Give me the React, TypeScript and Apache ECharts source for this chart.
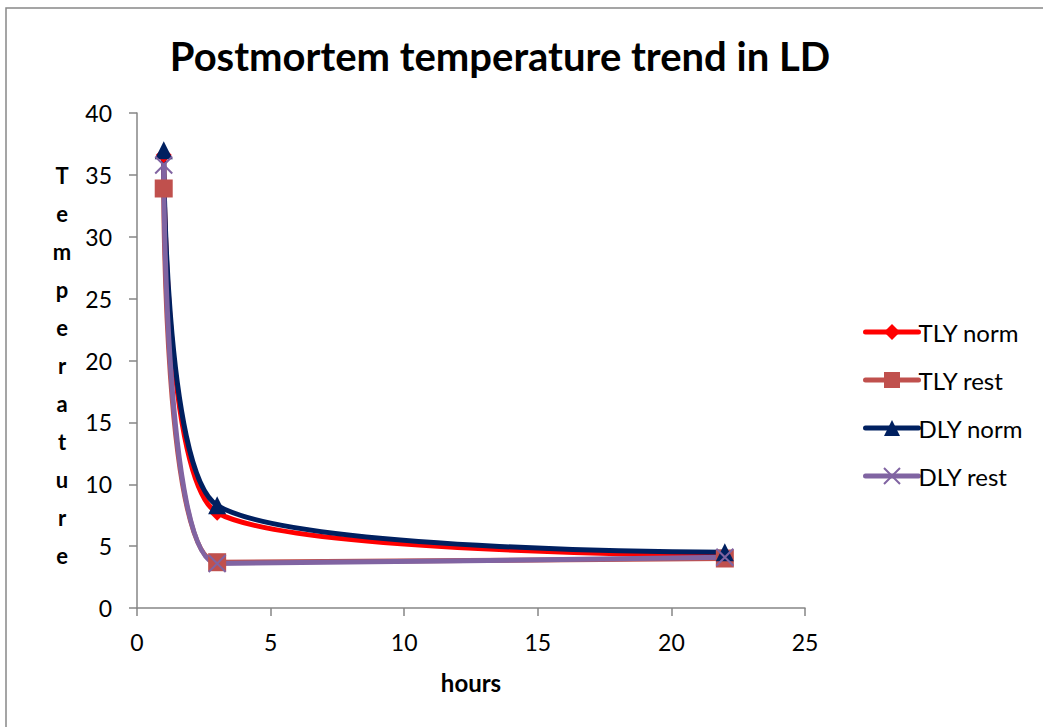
import React, { useEffect, useRef } from "react";
import * as echarts from "echarts";

const hours = [1, 3, 22];
const tlyNorm = [36.6, 7.7, 4.3];
const tlyRest = [33.9, 3.7, 4.0];
const dlyNorm = [37.0, 8.3, 4.5];
const dlyRest = [35.8, 3.6, 4.1];
const seriesNames = ["TLY norm", "TLY rest", "DLY norm", "DLY rest"];
const yLetters = ["T", "e", "m", "p", "e", "r", "a", "t", "u", "r", "e"];

const FONT = "Lato, 'Open Sans', sans-serif";

export default function App() {
  const ref = useRef<HTMLDivElement>(null);
  useEffect(() => {
    document.body.style.margin = "0";
    const chart = echarts.init(ref.current!, null, { renderer: "svg" });
    const pts = (ys: number[]) => hours.map((h, i) => [h, ys[i]]);
    const mk = (name: string, ys: number[], color: string, symbol: string, size: number, extra: any = {}) => ({
      name,
      type: "line",
      data: pts(ys),
      smooth: 0.6,
      symbol,
      symbolSize: size,
      showSymbol: true,
      lineStyle: { color, width: 5, cap: "round" },
      itemStyle: { color, ...extra },
      z: 2,
    });
    chart.setOption({
      animation: false,
      backgroundColor: "#ffffff",
      textStyle: { fontFamily: FONT },
      title: {
        text: "Postmortem temperature trend in LD",
        left: 495,
        textAlign: "center",
        top: 31,
        textStyle: { fontFamily: FONT, fontSize: 40, fontWeight: "bold", color: "#000" },
      },
      grid: { left: 137, top: 113, right: 238, bottom: 119 },
      xAxis: {
        type: "value",
        min: 0,
        max: 25,
        interval: 5,
        name: "hours",
        nameLocation: "middle",
        nameGap: 62,
        nameTextStyle: { fontFamily: FONT, fontSize: 24, fontWeight: "bold", color: "#000" },
        axisLine: { show: true, lineStyle: { color: "#868686", width: 1.5 } },
        axisTick: { show: true, length: 8, lineStyle: { color: "#868686", width: 1.5 } },
        axisLabel: { fontSize: 23, color: "#000", margin: 22, fontFamily: FONT },
        splitLine: { show: false },
      },
      yAxis: {
        type: "value",
        min: 0,
        max: 40,
        interval: 5,
        axisLine: { show: true, lineStyle: { color: "#868686", width: 1.5 } },
        axisTick: { show: true, length: 8, lineStyle: { color: "#868686", width: 1.5 } },
        axisLabel: { fontSize: 23, color: "#000", margin: 25, fontFamily: FONT },
        splitLine: { show: false },
      },
      legend: {
        orient: "vertical",
        left: 858,
        top: 315,
        itemWidth: 53,
        itemHeight: 20,
        itemGap: 24,
        lineStyle: { width: 5, cap: "round" },
        textStyle: { fontFamily: FONT, fontSize: 24, color: "#000", padding: [0, 0, 0, -5] },
        data: seriesNames,
      },
      graphic: [
        {
          type: "rect",
          shape: { x: 6, y: 8, width: 1100, height: 800 },
          style: { fill: "none", stroke: "#888888", lineWidth: 1.5 },
          silent: true,
        },
        {
          type: "text",
          x: 62,
          y: 156,
          style: {
            text: yLetters.join("\n"),
            fontFamily: FONT,
            fontSize: 22,
            fontWeight: "bold",
            lineHeight: 38,
            fill: "#000",
            align: "center",
            verticalAlign: "top",
          },
        },
      ],
      series: [
        mk(seriesNames[0], tlyNorm, "#FF0000", "diamond", 16),
        mk(seriesNames[1], tlyRest, "#C0504D", "rect", 18),
        mk(seriesNames[2], dlyNorm, "#002060", "triangle", 18),
        mk(seriesNames[3], dlyRest, "#8064A2", "path://M0,0L10,10M10,0L0,10", 17, {
          borderColor: "#8064A2",
          borderWidth: 2,
        }),
      ],
    });
    return () => chart.dispose();
  }, []);
  return <div ref={ref} style={{ width: 1043, height: 727 }} />;
}
